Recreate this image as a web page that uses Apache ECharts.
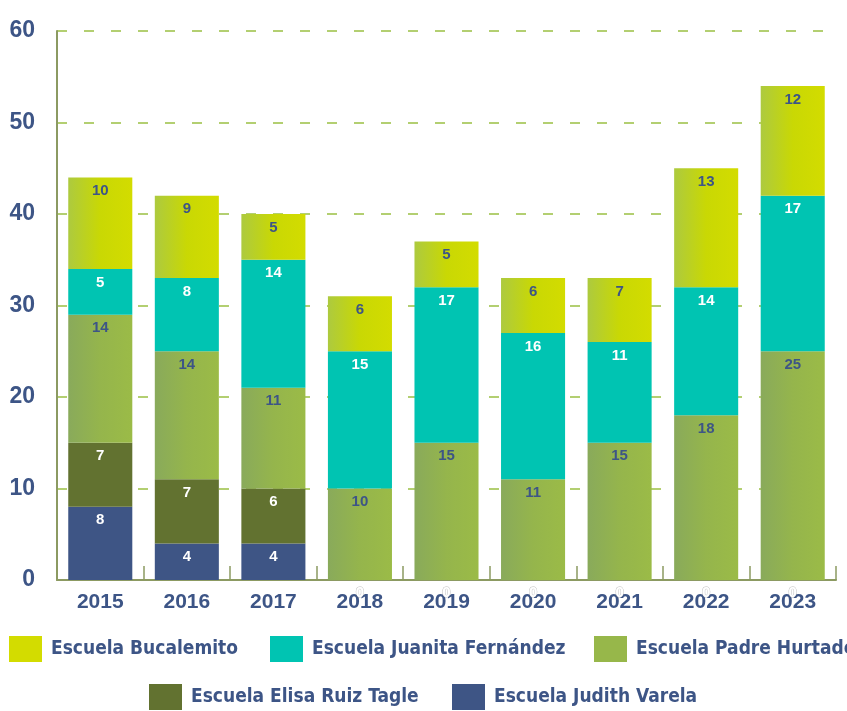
<!DOCTYPE html>
<html><head><meta charset="utf-8">
<script src="https://cdn.jsdelivr.net/npm/echarts@6/dist/echarts.min.js"></script>
<style>html,body{margin:0;padding:0;background:#fff}#c{width:847px;height:711px}</style>
</head><body><div id="c"></div>
<script>
const categories = ['2015','2016','2017','2018','2019','2020','2021','2022','2023'];
const yTicks = [0,10,20,30,40,50,60];
const bucalemito = [10,9,5,6,5,6,7,13,12];
const juanita = [5,8,14,15,17,16,11,14,17];
const padreHurtado = [14,14,11,10,15,11,15,18,25];
const elisa = [7,7,6,0,0,0,0,0,0];
const judith = [8,4,4,0,0,0,0,0,0];
const seriesNames = ['Escuela Judith Varela','Escuela Elisa Ruiz Tagle','Escuela Padre Hurtado','Escuela Juanita Fernández','Escuela Bucalemito'];

const NAVY = '#3d5586';
function grad(a,b,c){return {type:'linear',x:0,y:0,x2:1,y2:0,colorStops:[{offset:0,color:a},{offset:0.5,color:b},{offset:1,color:c}]};}
const styles = {
  'Escuela Bucalemito': {fill: grad('#adca3f','#c9d804','#d3dc00'), solid:'#d3dc00', label: NAVY},
  'Escuela Juanita Fernández': {fill:'#00c4b2', solid:'#00c4b2', label:'#ffffff'},
  'Escuela Padre Hurtado': {fill: grad('#89aa5b','#95b54c','#9bbb47'), solid:'#97b74a', label: NAVY},
  'Escuela Elisa Ruiz Tagle': {fill:'#627230', solid:'#627230', label:'#ffffff'},
  'Escuela Judith Varela': {fill:'#3e5585', solid:'#3e5585', label:'#ffffff'}
};
const dataMap = {
  'Escuela Judith Varela': judith,
  'Escuela Elisa Ruiz Tagle': elisa,
  'Escuela Padre Hurtado': padreHurtado,
  'Escuela Juanita Fernández': juanita,
  'Escuela Bucalemito': bucalemito
};
const FONT = 'Liberation Sans';
const series = seriesNames.map(n => ({
  name: n, type: 'bar', stack: 'total', barWidth: '74%',
  itemStyle: {color: styles[n].fill},
  label: {show: true, position: 'insideTop', distance: 6, color: styles[n].label,
          fontFamily: FONT, fontWeight: 'bold', fontSize: 15},
  data: dataMap[n].map(v => v === 0 ? {value: 0, label: {position: 'bottom', distance: 5, color: '#ffffff',
          textBorderColor: 'rgba(150,150,150,0.35)', textBorderWidth: 1}} : v)
}));

const legendPos = [
  ['Escuela Bucalemito', 9, 636],
  ['Escuela Juanita Fernández', 270, 636],
  ['Escuela Padre Hurtado', 594, 636],
  ['Escuela Elisa Ruiz Tagle', 149, 684],
  ['Escuela Judith Varela', 452, 684]
];
const legends = legendPos.map(([n, l, t]) => ({
  left: l, top: t, padding: 0, itemWidth: 33, itemHeight: 26, selectedMode: false,
  data: [{name: n, icon: 'rect', itemStyle: {color: styles[n].solid}}],
  textStyle: {color: NAVY, fontFamily: 'DejaVu Sans Condensed', fontWeight: 'bold', fontSize: 19, padding: [0,0,0,4]}
}));

const chart = echarts.init(document.getElementById('c'), null, {renderer: 'canvas'});
chart.setOption({
  animation: false,
  backgroundColor: '#ffffff',
  legend: legends,
  grid: {left: 57, right: 11, top: 31, bottom: 131, containLabel: false},
  xAxis: {
    type: 'category', data: categories,
    axisLine: {show: true, lineStyle: {color: '#8c9a62', width: 2}},
    axisTick: {show: true, inside: true, length: 14, lineStyle: {color: '#8c9a62', width: 1.5}},
    axisLabel: {color: NAVY, fontFamily: FONT, fontWeight: 'bold', fontSize: 21, margin: 12}
  },
  yAxis: {
    type: 'value', min: yTicks[0], max: yTicks[yTicks.length-1], interval: 10,
    axisLine: {show: true, lineStyle: {color: '#8c9a62', width: 2}},
    axisTick: {show: false},
    splitLine: {show: true, lineStyle: {color: '#9bc043', width: 1.5, type: [10, 17]}},
    axisLabel: {color: NAVY, fontFamily: FONT, fontWeight: 'bold', fontSize: 23, margin: 22}
  },
  series: series
});
</script></body></html>
